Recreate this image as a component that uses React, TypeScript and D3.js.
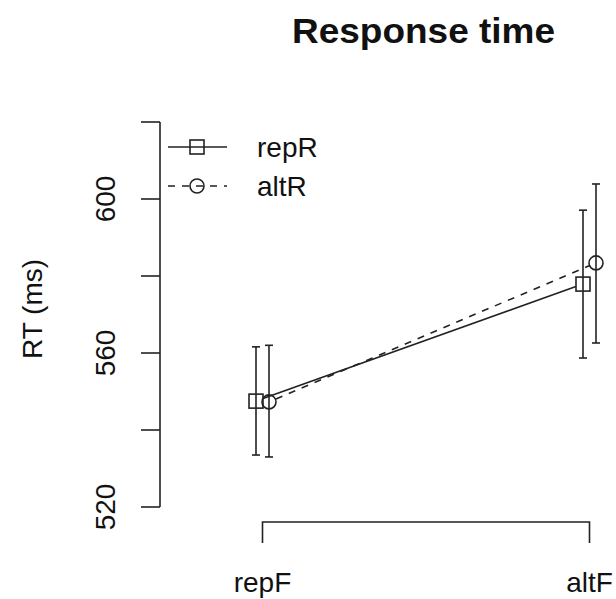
import React from "react";
import * as d3 from "d3";

const categories = ["repF", "altF"];
const seriesNames = ["repR", "altR"];
const repRMean = [547.5, 577.9];
const repRLow = [533.5, 558.7];
const repRHigh = [561.6, 597.1];
const altRMean = [547.3, 583.4];
const altRLow = [533.0, 562.6];
const altRHigh = [562.0, 603.9];
const yTicks = [520, 540, 560, 580, 600, 620];
const yTickLabels = [520, 560, 600];

const W = 616;
const H = 599;
const FONT = "'Liberation Sans', Arial, sans-serif";
const INK = "#222";

export default function App() {
  const y = d3.scaleLinear().domain([520, 620]).range([507, 122]);
  const x = d3.scalePoint<string>().domain(categories).range([262.5, 589.5]);
  const dodge = 6.5;

  const series = [
    { name: seriesNames[0], mean: repRMean, lo: repRLow, hi: repRHigh, off: -dodge, dash: undefined as string | undefined, shape: "square" },
    { name: seriesNames[1], mean: altRMean, lo: altRLow, hi: altRHigh, off: dodge, dash: "7,7", shape: "circle" },
  ];

  const gap = 7.5;
  const marker = (shape: string, cx: number, cy: number, key: string) =>
    shape === "square" ? (
      <rect key={key} x={cx - 7} y={cy - 7} width={14} height={14} fill="none" stroke={INK} strokeWidth={1.6} />
    ) : (
      <circle key={key} cx={cx} cy={cy} r={7} fill="none" stroke={INK} strokeWidth={1.6} />
    );

  return (
    <svg width={W} height={H} style={{ position: "absolute", left: 0, top: 0, background: "#fff" }} fontFamily={FONT}>
      <rect width={W} height={H} fill="#fff" />
      <text x={423.5} y={43} textAnchor="middle" fontSize={35.5} fontWeight="bold" fill="#111" textLength={263} lengthAdjust="spacingAndGlyphs">Response time</text>

      {/* y axis */}
      <line x1={160} x2={160} y1={y(620)} y2={y(520)} stroke={INK} strokeWidth={1.6} />
      {yTicks.map((t) => (
        <line key={t} x1={141} x2={160} y1={y(t)} y2={y(t)} stroke={INK} strokeWidth={1.6} />
      ))}
      {yTickLabels.map((t) => (
        <text key={t} transform={`translate(115,${y(t)}) rotate(-90)`} textAnchor="middle" fontSize={28} fill="#111">{t}</text>
      ))}
      <text transform={`translate(42,309) rotate(-90)`} textAnchor="middle" fontSize={28} fill="#111">RT (ms)</text>

      {/* x axis */}
      <path d={`M${x(categories[0])},543V522H${x(categories[1])}V543`} fill="none" stroke={INK} strokeWidth={1.6} />
      {categories.map((c) => (
        <text key={c} x={x(c)} y={592} textAnchor="middle" fontSize={28} fill="#111">{c}</text>
      ))}

      {series.map((s) => {
        const pts = categories.map((c, i) => [(x(c) as number) + s.off, y(s.mean[i])]);
        const [a, b] = pts;
        const len = Math.hypot(b[0] - a[0], b[1] - a[1]);
        const ux = (b[0] - a[0]) / len;
        const uy = (b[1] - a[1]) / len;
        return (
          <g key={s.name}>
            <line x1={a[0] + ux * gap} y1={a[1] + uy * gap} x2={b[0] - ux * gap} y2={b[1] - uy * gap} stroke={INK} strokeWidth={1.6} strokeDasharray={s.dash} />
            {categories.map((c, i) => {
              const cx = (x(c) as number) + s.off;
              return (
                <g key={c}>
                  <line x1={cx} x2={cx} y1={y(s.lo[i])} y2={y(s.hi[i])} stroke={INK} strokeWidth={1.6} />
                  <line x1={cx - 4} x2={cx + 4} y1={y(s.lo[i])} y2={y(s.lo[i])} stroke={INK} strokeWidth={1.6} />
                  <line x1={cx - 4} x2={cx + 4} y1={y(s.hi[i])} y2={y(s.hi[i])} stroke={INK} strokeWidth={1.6} />
                  {marker(s.shape, cx, y(s.mean[i]), "m" + c)}
                </g>
              );
            })}
          </g>
        );
      })}

      {/* legend */}
      {series.map((s, i) => {
        const ly = 147 + i * 39;
        return (
          <g key={"lg" + s.name}>
            <line x1={168} x2={227} y1={ly} y2={ly} stroke={INK} strokeWidth={1.6} strokeDasharray={s.dash} />
            {marker(s.shape, 197, ly, "lm")}
            <text x={257} y={ly + 10} fontSize={28} fill="#111">{s.name}</text>
          </g>
        );
      })}
    </svg>
  );
}
